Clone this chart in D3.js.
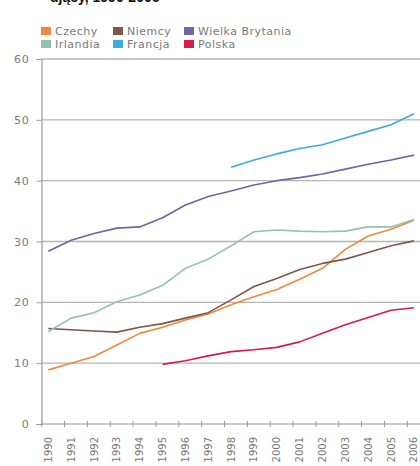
<!DOCTYPE html>
<html><head><meta charset="utf-8">
<script src="https://cdn.jsdelivr.net/npm/d3@7"></script>
<style>body{margin:0;background:#fff;}svg{display:block;}</style>
</head><body>
<svg id="c" width="420" height="466"></svg>
<script>
const years = d3.range(1990, 2007);
const yTicks = [0, 10, 20, 30, 40, 50, 60];
const seriesNames = ["Czechy", "Niemcy", "Wielka Brytania", "Irlandia", "Francja", "Polska"];
const czechy = [8.9, 10.0, 11.1, 13.0, 14.9, 15.9, 17.1, 18.1, 19.6, 20.9, 22.1, 23.8, 25.6, 28.7, 30.9, 32.0, 33.5];
const niemcy = [15.7, 15.5, 15.3, 15.1, 15.9, 16.5, 17.4, 18.3, 20.4, 22.6, 23.9, 25.4, 26.4, 27.1, 28.2, 29.3, 30.1];
const wielkaBrytania = [28.4, 30.2, 31.3, 32.2, 32.4, 33.9, 36.0, 37.4, 38.3, 39.3, 40.0, 40.5, 41.1, 41.9, 42.7, 43.4, 44.2];
const irlandia = [15.2, 17.4, 18.3, 20.1, 21.2, 22.8, 25.6, 27.1, 29.3, 31.6, 31.9, 31.7, 31.6, 31.7, 32.4, 32.4, 33.6];
const francja = [null, null, null, null, null, null, null, null, 42.2, 43.4, 44.4, 45.3, 45.9, 47.0, 48.1, 49.2, 51.0];
const polska = [null, null, null, null, null, 9.8, 10.4, 11.2, 11.9, 12.2, 12.6, 13.5, 14.9, 16.3, 17.5, 18.7, 19.1];
const colors = ["#ee8a3c", "#7f564c", "#6c66a2", "#94c3ac", "#3caede", "#d51a4f"];
const allValues = [czechy, niemcy, wielkaBrytania, irlandia, francja, polska];
const titleText = "ujący, 1990-2006";

const svg = d3.select("#c");
const x = d3.scaleLinear().domain([1990, 2006]).range([48.3, 413.9]);
const y = d3.scaleLinear().domain([0, 60]).range([424, 59]);

// title (cut off at top, as in the reference)
svg.append("text").attr("x", 50).attr("y", 1.5).attr("font-family", "Liberation Sans, Arial, sans-serif")
  .attr("font-weight", "bold").attr("font-size", 14).attr("fill", "#111").text(titleText);

// grid
svg.append("g").selectAll("line").data(yTicks.filter(d => d > 0)).join("line")
  .attr("x1", 41.5).attr("x2", 420).attr("y1", d => y(d)).attr("y2", d => y(d))
  .attr("stroke", "#b5b5b5").attr("stroke-width", 1.3);

// y axis
const yAxis = svg.append("g").attr("transform", "translate(41.5,0)")
  .call(d3.axisLeft(y).tickValues(yTicks).tickSize(5).tickPadding(7));
yAxis.select(".domain").attr("stroke", "#9a9a9a").attr("stroke-width", 1.2);
yAxis.selectAll(".tick line").attr("stroke", "#9a9a9a");
yAxis.selectAll("text").attr("font-family", "DejaVu Sans, sans-serif").attr("font-size", 11)
  .attr("letter-spacing", 0.8).attr("fill", "#7a7a7a");

// x axis
const xAxis = svg.append("g").attr("transform", "translate(0,424)");
xAxis.append("line").attr("x1", 41.5).attr("x2", 420).attr("stroke", "#9a9a9a").attr("stroke-width", 1.2);
xAxis.selectAll("line.t").data(years).join("line").attr("class", "t")
  .attr("x1", d => x(d) - 6.6).attr("x2", d => x(d) - 6.6).attr("y1", -3).attr("y2", 3)
  .attr("stroke", "#9a9a9a");
xAxis.selectAll("text").data(years).join("text")
  .attr("transform", d => `translate(${x(d) + 3.5},13) rotate(-90)`)
  .attr("text-anchor", "end")
  .attr("font-family", "DejaVu Sans, sans-serif").attr("font-size", 10).attr("fill", "#7a7a7a")
  .text(d => d);

// lines
const line = d3.line().defined(d => d[1] != null).x(d => x(d[0])).y(d => y(d[1]));
allValues.forEach((vals, i) => {
  svg.append("path").datum(years.map((yr, j) => [yr, vals[j]]))
    .attr("d", line).attr("fill", "none").attr("stroke", colors[i]).attr("stroke-width", 1.6)
    .attr("stroke-linejoin", "round");
});

// legend
const legendPos = [[41, 27], [113, 27], [184, 27], [41, 40], [113, 40], [184, 40]];
const lg = svg.append("g");
seriesNames.forEach((n, i) => {
  const [lx, ly] = legendPos[i];
  lg.append("rect").attr("x", lx).attr("y", ly).attr("width", 10).attr("height", 8).attr("fill", colors[i]);
  lg.append("text").attr("x", lx + 14).attr("y", ly + 8).attr("font-family", "DejaVu Sans, sans-serif")
    .attr("font-size", 11).attr("letter-spacing", 0.5).attr("fill", "#7a7a7a").text(n);
});
</script>
</body></html>
